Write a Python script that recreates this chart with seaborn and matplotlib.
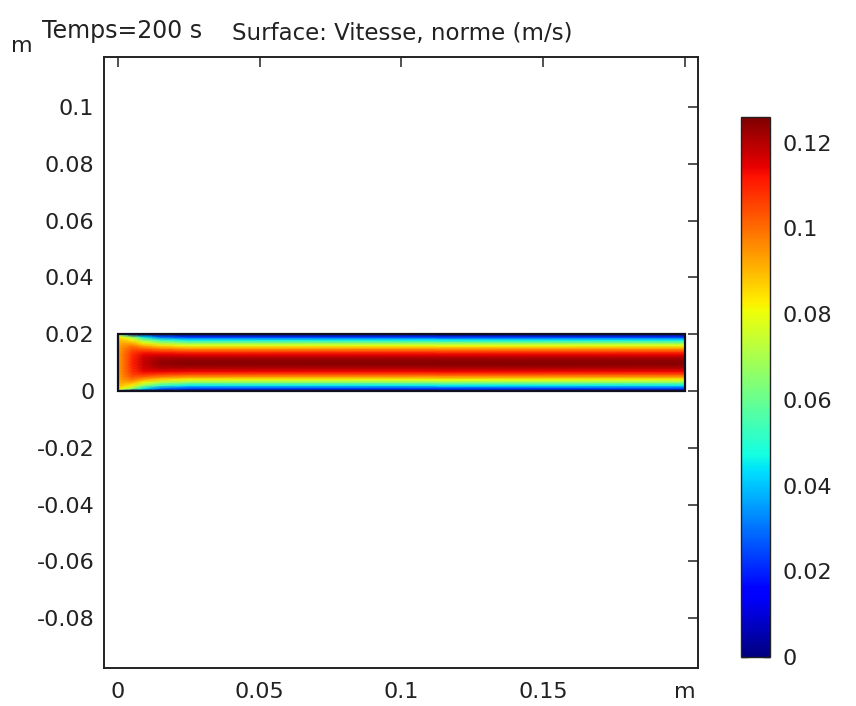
import numpy as np
import matplotlib
matplotlib.use("Agg")
import matplotlib.pyplot as plt
from matplotlib.patches import Rectangle
import seaborn as sns

# ---------------- data ----------------
# stations along the channel (m) and half-profiles (wall -> centre) of |u| (m/s)
x_stations = [0.0, 0.002, 0.005, 0.009, 0.015, 0.025, 0.200]
y_half = [0.0, 0.001, 0.002, 0.003, 0.004, 0.005, 0.006, 0.007, 0.008, 0.009, 0.010]
u_x000 = [0.080, 0.086, 0.089, 0.091, 0.092, 0.093, 0.093, 0.094, 0.094, 0.094, 0.094]
u_x002 = [0.040, 0.080, 0.088, 0.092, 0.095, 0.097, 0.098, 0.099, 0.099, 0.099, 0.099]
u_x005 = [0.000, 0.068, 0.082, 0.091, 0.098, 0.103, 0.106, 0.108, 0.109, 0.110, 0.110]
u_x009 = [0.000, 0.045, 0.066, 0.080, 0.092, 0.101, 0.109, 0.114, 0.117, 0.118, 0.118]
u_x015 = [0.000, 0.030, 0.052, 0.070, 0.085, 0.097, 0.107, 0.115, 0.120, 0.123, 0.124]
u_x025 = [0.000, 0.024, 0.045, 0.064, 0.080, 0.094, 0.105, 0.114, 0.120, 0.124, 0.125]
u_x200 = [0.000, 0.024, 0.045, 0.064, 0.080, 0.094, 0.105, 0.114, 0.120, 0.124, 0.125]

x_ticks = [0, 0.05, 0.1, 0.15, 0.2]
x_tick_labels = ["0", "0.05", "0.1", "0.15", "m"]
y_ticks = [-0.08, -0.06, -0.04, -0.02, 0, 0.02, 0.04, 0.06, 0.08, 0.1]
y_tick_labels = ["-0.08", "-0.06", "-0.04", "-0.02", "0", "0.02", "0.04", "0.06", "0.08", "0.1"]
cb_ticks = [0, 0.02, 0.04, 0.06, 0.08, 0.1, 0.12]
cb_tick_labels = ["0", "0.02", "0.04", "0.06", "0.08", "0.1", "0.12"]
title_left = "Temps=200 s"
title_right = "Surface: Vitesse, norme (m/s)"
unit_label = "m"
vmin, vmax = 0.0, 0.126

# ---------------- styling ----------------
sns.set_theme(style="white")
plt.rcParams["font.family"] = ["DejaVu Sans"]
txt = "#222222"
fs = 16
fs_title = 16.5

# assemble the full-height grid (mirror the half-profiles)
profiles = [u_x000, u_x002, u_x005, u_x009, u_x015, u_x025, u_x200]
y_full = np.array(y_half + [0.02 - v for v in y_half[-2::-1]])
U = np.array([p + p[-2::-1] for p in profiles]).T          # shape (ny, nx)
X, Y = np.meshgrid(np.array(x_stations), y_full)

cmap = matplotlib.colormaps["jet"]

fig = plt.figure(figsize=(8.56, 7.06), dpi=100)
ax = fig.add_axes([104 / 856, 1 - 668 / 706, 594 / 856, 611 / 706])
cax = fig.add_axes([741 / 856, 1 - 657 / 706, 29 / 856, 540 / 706])

mesh = ax.pcolormesh(X, Y, U, shading="gouraud", cmap=cmap, vmin=vmin, vmax=vmax)
ax.add_patch(Rectangle((x_stations[0], y_full[0]), x_stations[-1] - x_stations[0],
                       y_full[-1] - y_full[0], fill=False, edgecolor="#101020", lw=1.6))

ax.set_xlim(-0.00494, 0.2047)
ax.set_ylim(-0.0975, 0.1176)
ax.set_xticks(x_ticks)
ax.set_xticklabels(x_tick_labels)
ax.set_yticks(y_ticks)
ax.set_yticklabels(y_tick_labels)
ax.tick_params(axis="both", direction="in", length=7, width=1.1, color="#222222",
               labelsize=fs, labelcolor=txt, top=True, right=True)
ax.tick_params(axis="x", pad=10)
ax.tick_params(axis="y", pad=7)
for s in ax.spines.values():
    s.set_color("#222222")
    s.set_linewidth(1.4)
ax.grid(False)

cb = fig.colorbar(mesh, cax=cax, ticks=cb_ticks)
cb.set_ticklabels(cb_tick_labels)
cax.tick_params(direction="in", length=5, width=1, color="#222222", left=True, right=True,
                labelleft=False, labelright=True, labelsize=fs, labelcolor=txt, pad=9)
cb.outline.set_edgecolor("#222222")
cb.outline.set_linewidth(1.0)

fig.text(42 / 856, 1 - 38 / 706, title_left, fontsize=17, color=txt, va="baseline", ha="left")
fig.text(232 / 856, 1 - 40 / 706, title_right, fontsize=fs_title, color=txt, va="baseline", ha="left")
fig.text(11 / 856, 1 - 52 / 706, unit_label, fontsize=fs, color=txt, va="baseline", ha="left")

fig.savefig("out.png", dpi=100, facecolor="white")
